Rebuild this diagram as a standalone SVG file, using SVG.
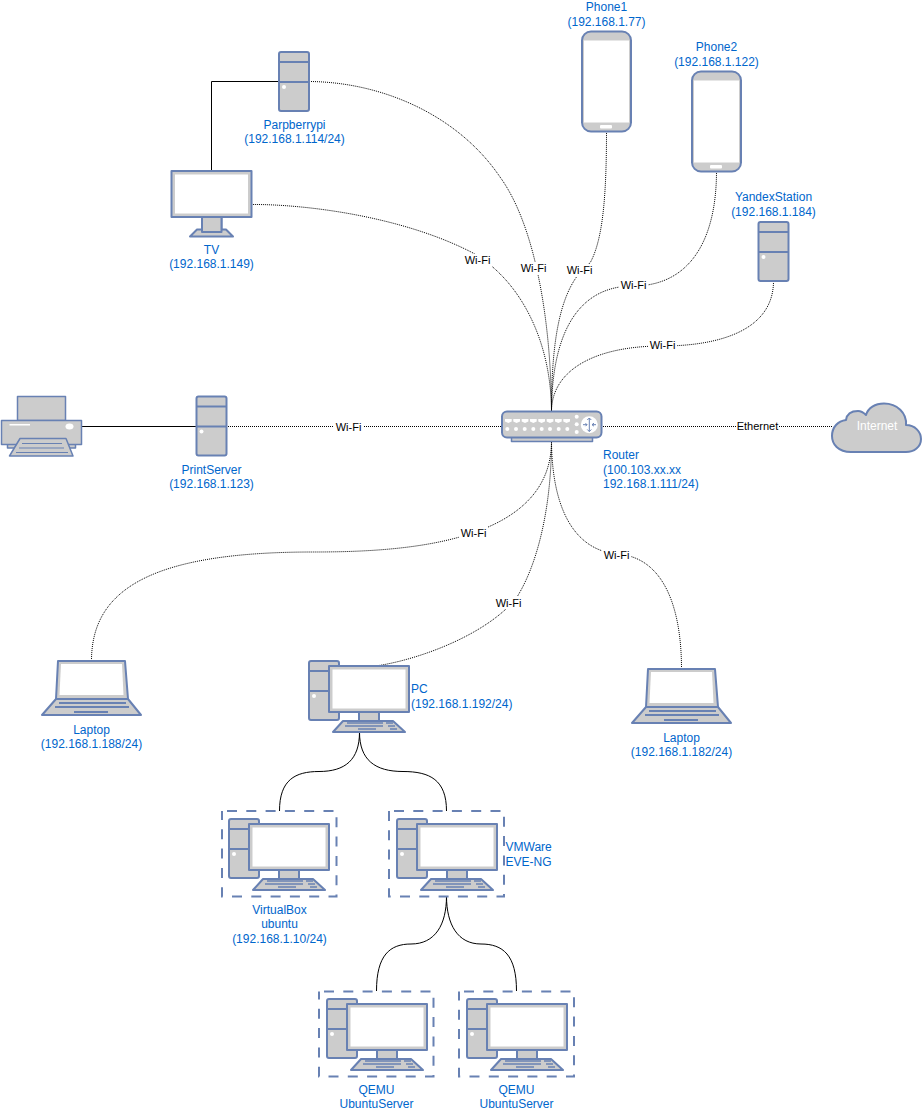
<svg xmlns="http://www.w3.org/2000/svg" width="923" height="1113" viewBox="0 0 923 1113">
<style>
text{font-family:"Liberation Sans",Arial,sans-serif;font-size:12px;fill:#0066CC;text-anchor:middle}
.s{fill:#CCCCCC;stroke:#6881B3;stroke-width:2;stroke-linejoin:round}
.p{fill:#CCCCCC;stroke:#6881B3;stroke-width:1.500;stroke-linejoin:round}
.l{fill:none;stroke:#6881B3;stroke-width:2}
.t{fill:none;stroke:#6881B3;stroke-width:1.500}
.h{fill:none;stroke:#6881B3;stroke-width:1}
.w{fill:#fff;stroke:none}
.wire{fill:none;stroke:#000;stroke-width:1;stroke-dasharray:1 1}
.solid{fill:none;stroke:#000;stroke-width:1}
.tag{font-size:11px;fill:#000}
.bg{fill:#fff;stroke:none}
.box{fill:none;stroke:#6881B3;stroke-width:2;stroke-dasharray:10 9.300;stroke-dashoffset:-5}
.start{text-anchor:start}
</style>
<defs>
<g id="server">
<rect class="s" x="0" y="0" width="30" height="59" rx="2"/>
<path class="l" d="M0 10H30M0 30H30"/>
<circle class="w" cx="5" cy="35" r="2"/>
</g>
<g id="screen">
<rect class="s" x="0" y="0" width="80" height="46"/>
<rect class="w" x="3.500" y="3.500" width="73" height="39"/>
</g>
<g id="pc">
<use href="#server" x="0" y="0"/>
<use href="#screen" x="20" y="5"/>
<rect class="s" x="50" y="51" width="20" height="9"/>
<path class="s" d="M34 60H84L96 71H24Z"/>
<path class="t" d="M38 62H74M77 62H84M36 65H74M79 65H86M49 68H67M81 68H88"/>
</g>
<g id="laptop">
<path class="s" d="M16 0H83L86 38H14Z"/>
<path class="w" d="M19 3H80L81.500 34H17.500Z"/>
<path class="s" d="M14 38H86L99 54H0Z"/>
<path class="l" d="M17 42H84M13 46H87M32 51H66"/>
</g>
<g id="phone">
<rect class="s" x="0" y="0" width="49" height="100" rx="9"/>
<rect class="w" x="2" y="9" width="45" height="82"/>
<rect class="w" x="18" y="93.500" width="12" height="3.500" rx="1"/>
</g>
<path id="key" d="M0 0H6.700V2.500L3.300 4L0 2.500Z"/>
</defs>

<g id="connectors">
<path class="solid" d="M279 81.500H211.500V171"/>
<path class="solid" d="M81 426.500H196"/>
<path class="wire" d="M309 81.500C382 82 458 115 500 177C535 225 551 320 551.500 411"/>
<path class="wire" d="M251 204.500C300 204 400 215 473 253C520 280 551 340 551.500 411"/>
<path class="wire" d="M606.500 131C606.500 195 603 240 590 263C560 285 551.500 340 551.500 411"/>
<path class="wire" d="M716.500 171C716.500 240 690 286 633 286C580 286 552 330 551.500 411"/>
<path class="wire" d="M773.500 281C773.500 330 720 346 662 346C595 346 552 370 551.500 411"/>
<path class="wire" d="M226 426.500H502"/>
<path class="wire" d="M601 426.500H832"/>
<path class="wire" d="M91.500 661C91.500 590 150 552 313 552C400 552 551.500 545 551.500 441"/>
<path class="wire" d="M379 665.500C425 658 490 632 517 597C540 560 551.500 500 551.500 441"/>
<path class="wire" d="M681.500 669C681.500 610 665 557 617 554C575 550 552 510 551.500 441"/>
<path class="solid" d="M359.500 732C359.500 760 345 771.500 319 771.500C295 771.500 279.500 780 279.500 811"/>
<path class="solid" d="M359.500 732C359.500 760 375 771.500 403 771.500C430 771.500 446.500 780 446.500 811"/>
<path class="solid" d="M446.500 896C446.500 925 435 944 411 944C390 944 376.500 955 376.500 991"/>
<path class="solid" d="M446.500 896C446.500 925 458 944 481 944C503 944 516.500 955 516.500 991"/>
<g id="wire-labels">
<rect class="bg" x="463" y="254" width="29" height="13"/><text class="tag" x="477.500" y="264">Wi-Fi</text>
<rect class="bg" x="519" y="262" width="29" height="13"/><text class="tag" x="533.500" y="272">Wi-Fi</text>
<rect class="bg" x="565" y="264" width="29" height="13"/><text class="tag" x="579.500" y="274">Wi-Fi</text>
<rect class="bg" x="619" y="279" width="29" height="13"/><text class="tag" x="633.500" y="289">Wi-Fi</text>
<rect class="bg" x="648" y="339" width="29" height="13"/><text class="tag" x="662.500" y="349">Wi-Fi</text>
<rect class="bg" x="334" y="421" width="29" height="13"/><text class="tag" x="348.500" y="431">Wi-Fi</text>
<rect class="bg" x="736" y="420" width="43" height="13"/><text class="tag" x="757.500" y="430">Ethernet</text>
<rect class="bg" x="459" y="526" width="29" height="13"/><text class="tag" x="473.500" y="537">Wi-Fi</text>
<rect class="bg" x="494" y="596" width="29" height="13"/><text class="tag" x="508.500" y="607">Wi-Fi</text>
<rect class="bg" x="602" y="548" width="29" height="13"/><text class="tag" x="616.500" y="559">Wi-Fi</text>
</g>
</g>

<g id="parpberrypi">
<use href="#server" x="279" y="52"/>
<text x="294.500" y="129">Parpberrypi</text><text x="294.500" y="143">(192.168.1.114/24)</text>
</g>
<g id="tv">
<rect class="s" x="202" y="216" width="19.500" height="17"/>
<path class="s" d="M197 229.500H226L233 236.500H190Z"/>
<rect class="s" x="202" y="216" width="19.500" height="16"/>
<use href="#screen" x="171.500" y="171"/>
<text x="211.500" y="254">TV</text><text x="211.500" y="268">(192.168.1.149)</text>
</g>
<g id="phone1">
<use href="#phone" x="582" y="31.500"/>
<text x="606.500" y="10.500">Phone1</text><text x="606.500" y="26">(192.168.1.77)</text>
</g>
<g id="phone2">
<use href="#phone" x="692" y="71.500"/>
<text x="716.500" y="51">Phone2</text><text x="716.500" y="66">(192.168.1.122)</text>
</g>
<g id="yandexstation">
<use href="#server" x="758.500" y="222"/>
<text x="773.500" y="201">YandexStation</text><text x="773.500" y="216">(192.168.1.184)</text>
</g>
<g id="printer">
<rect class="p" x="17.500" y="396.500" width="48" height="24"/>
<rect class="p" x="7.500" y="440" width="68" height="8"/>
<rect class="p" x="1.500" y="420.500" width="80" height="24"/>
<rect class="w" x="9.500" y="424" width="20.500" height="1.500"/>
<ellipse class="w" cx="69.500" cy="426.500" rx="4" ry="3"/>
<path class="p" d="M20 438.500H66L73 456H9.500Z"/>
<path class="h" d="M22 443.500H62M19 448H64M16 452.500H68"/>
</g>
<g id="printserver">
<use href="#server" x="196.500" y="396.500"/>
<text x="211.500" y="474">PrintServer</text><text x="211.500" y="488">(192.168.1.123)</text>
</g>
<g id="router">
<rect class="p" x="511.500" y="432" width="81" height="9.500"/>
<rect class="s" x="502" y="411.500" width="99.500" height="26" rx="5"/>
<g class="w">
<use href="#key" x="505" y="419"/><use href="#key" x="513.300" y="419"/><use href="#key" x="521.700" y="419"/><use href="#key" x="530" y="419"/><use href="#key" x="538.300" y="419"/><use href="#key" x="546.700" y="419"/><use href="#key" x="555" y="419"/><use href="#key" x="563.300" y="419"/>
<circle cx="507.300" cy="429" r="2"/><circle cx="516" cy="429" r="2"/><circle cx="524.700" cy="429" r="2"/><circle cx="533.300" cy="429" r="2"/><circle cx="541.700" cy="429" r="2"/><circle cx="550" cy="429" r="2"/><circle cx="558.700" cy="429" r="2"/><circle cx="567.300" cy="429" r="2"/>
<circle cx="576.700" cy="416.700" r="2"/><circle cx="576.700" cy="424.300" r="2"/><circle cx="576.700" cy="432" r="2"/>
<circle cx="589.300" cy="424.700" r="8.500"/>
</g>
<path class="h" d="M589.300 418V431.500M587.300 420L589.300 418L591.300 420M587.300 429.500L589.300 431.500L591.300 429.500M583 424.700H587M585.500 423.200L587 424.700L585.500 426.200M596 424.700H592M594 423.200L592 424.700L594 426.200"/>
<text class="start" x="603" y="459">Router</text><text class="start" x="603" y="474">(100.103.xx.xx</text><text class="start" x="603" y="488">192.168.1.111/24)</text>
</g>
<g id="internet">
<path class="s" d="M851 452C838 452 832 444 832 436C832 427 838 421 846 420C847 413 853 411 858 411C861 411 864 413 866 415C868 408 875 403.500 884 403.500C897 403.500 907 413 906 425C915 425 921 432 921 439C921 447 914 452 906 452Z"/>
<text x="877" y="430" style="fill:#fff">Internet</text>
</g>
<g id="laptop-left">
<use href="#laptop" x="42" y="661"/>
<text x="91.500" y="734">Laptop</text><text x="91.500" y="748">(192.168.1.188/24)</text>
</g>
<g id="pc-main">
<use href="#pc" x="309" y="661"/>
<text class="start" x="411" y="693">PC</text><text class="start" x="411" y="708">(192.168.1.192/24)</text>
</g>
<g id="laptop-right">
<use href="#laptop" x="632" y="669"/>
<text x="681.500" y="742">Laptop</text><text x="681.500" y="756">(192.168.1.182/24)</text>
</g>
<g id="virtualbox">
<rect class="box" x="222" y="811" width="114.500" height="85.500"/>
<use href="#pc" x="229" y="819"/>
<text x="279.500" y="914">VirtualBox</text><text x="279.500" y="928">ubuntu</text><text x="279.500" y="943">(192.168.1.10/24)</text>
</g>
<g id="vmware">
<rect class="box" x="389" y="811" width="115" height="85.500"/>
<use href="#pc" x="397" y="819"/>
<text class="start" x="505.500" y="851">VMWare</text><text class="start" x="505.500" y="866">EVE-NG</text>
</g>
<g id="qemu1">
<rect class="box" x="319" y="991.500" width="114.500" height="85"/>
<use href="#pc" x="327" y="999"/>
<text x="376.500" y="1094">QEMU</text><text x="376.500" y="1108">UbuntuServer</text>
</g>
<g id="qemu2">
<rect class="box" x="459" y="991.500" width="115" height="85"/>
<use href="#pc" x="467" y="999"/>
<text x="516.500" y="1094">QEMU</text><text x="516.500" y="1108">UbuntuServer</text>
</g>
</svg>
